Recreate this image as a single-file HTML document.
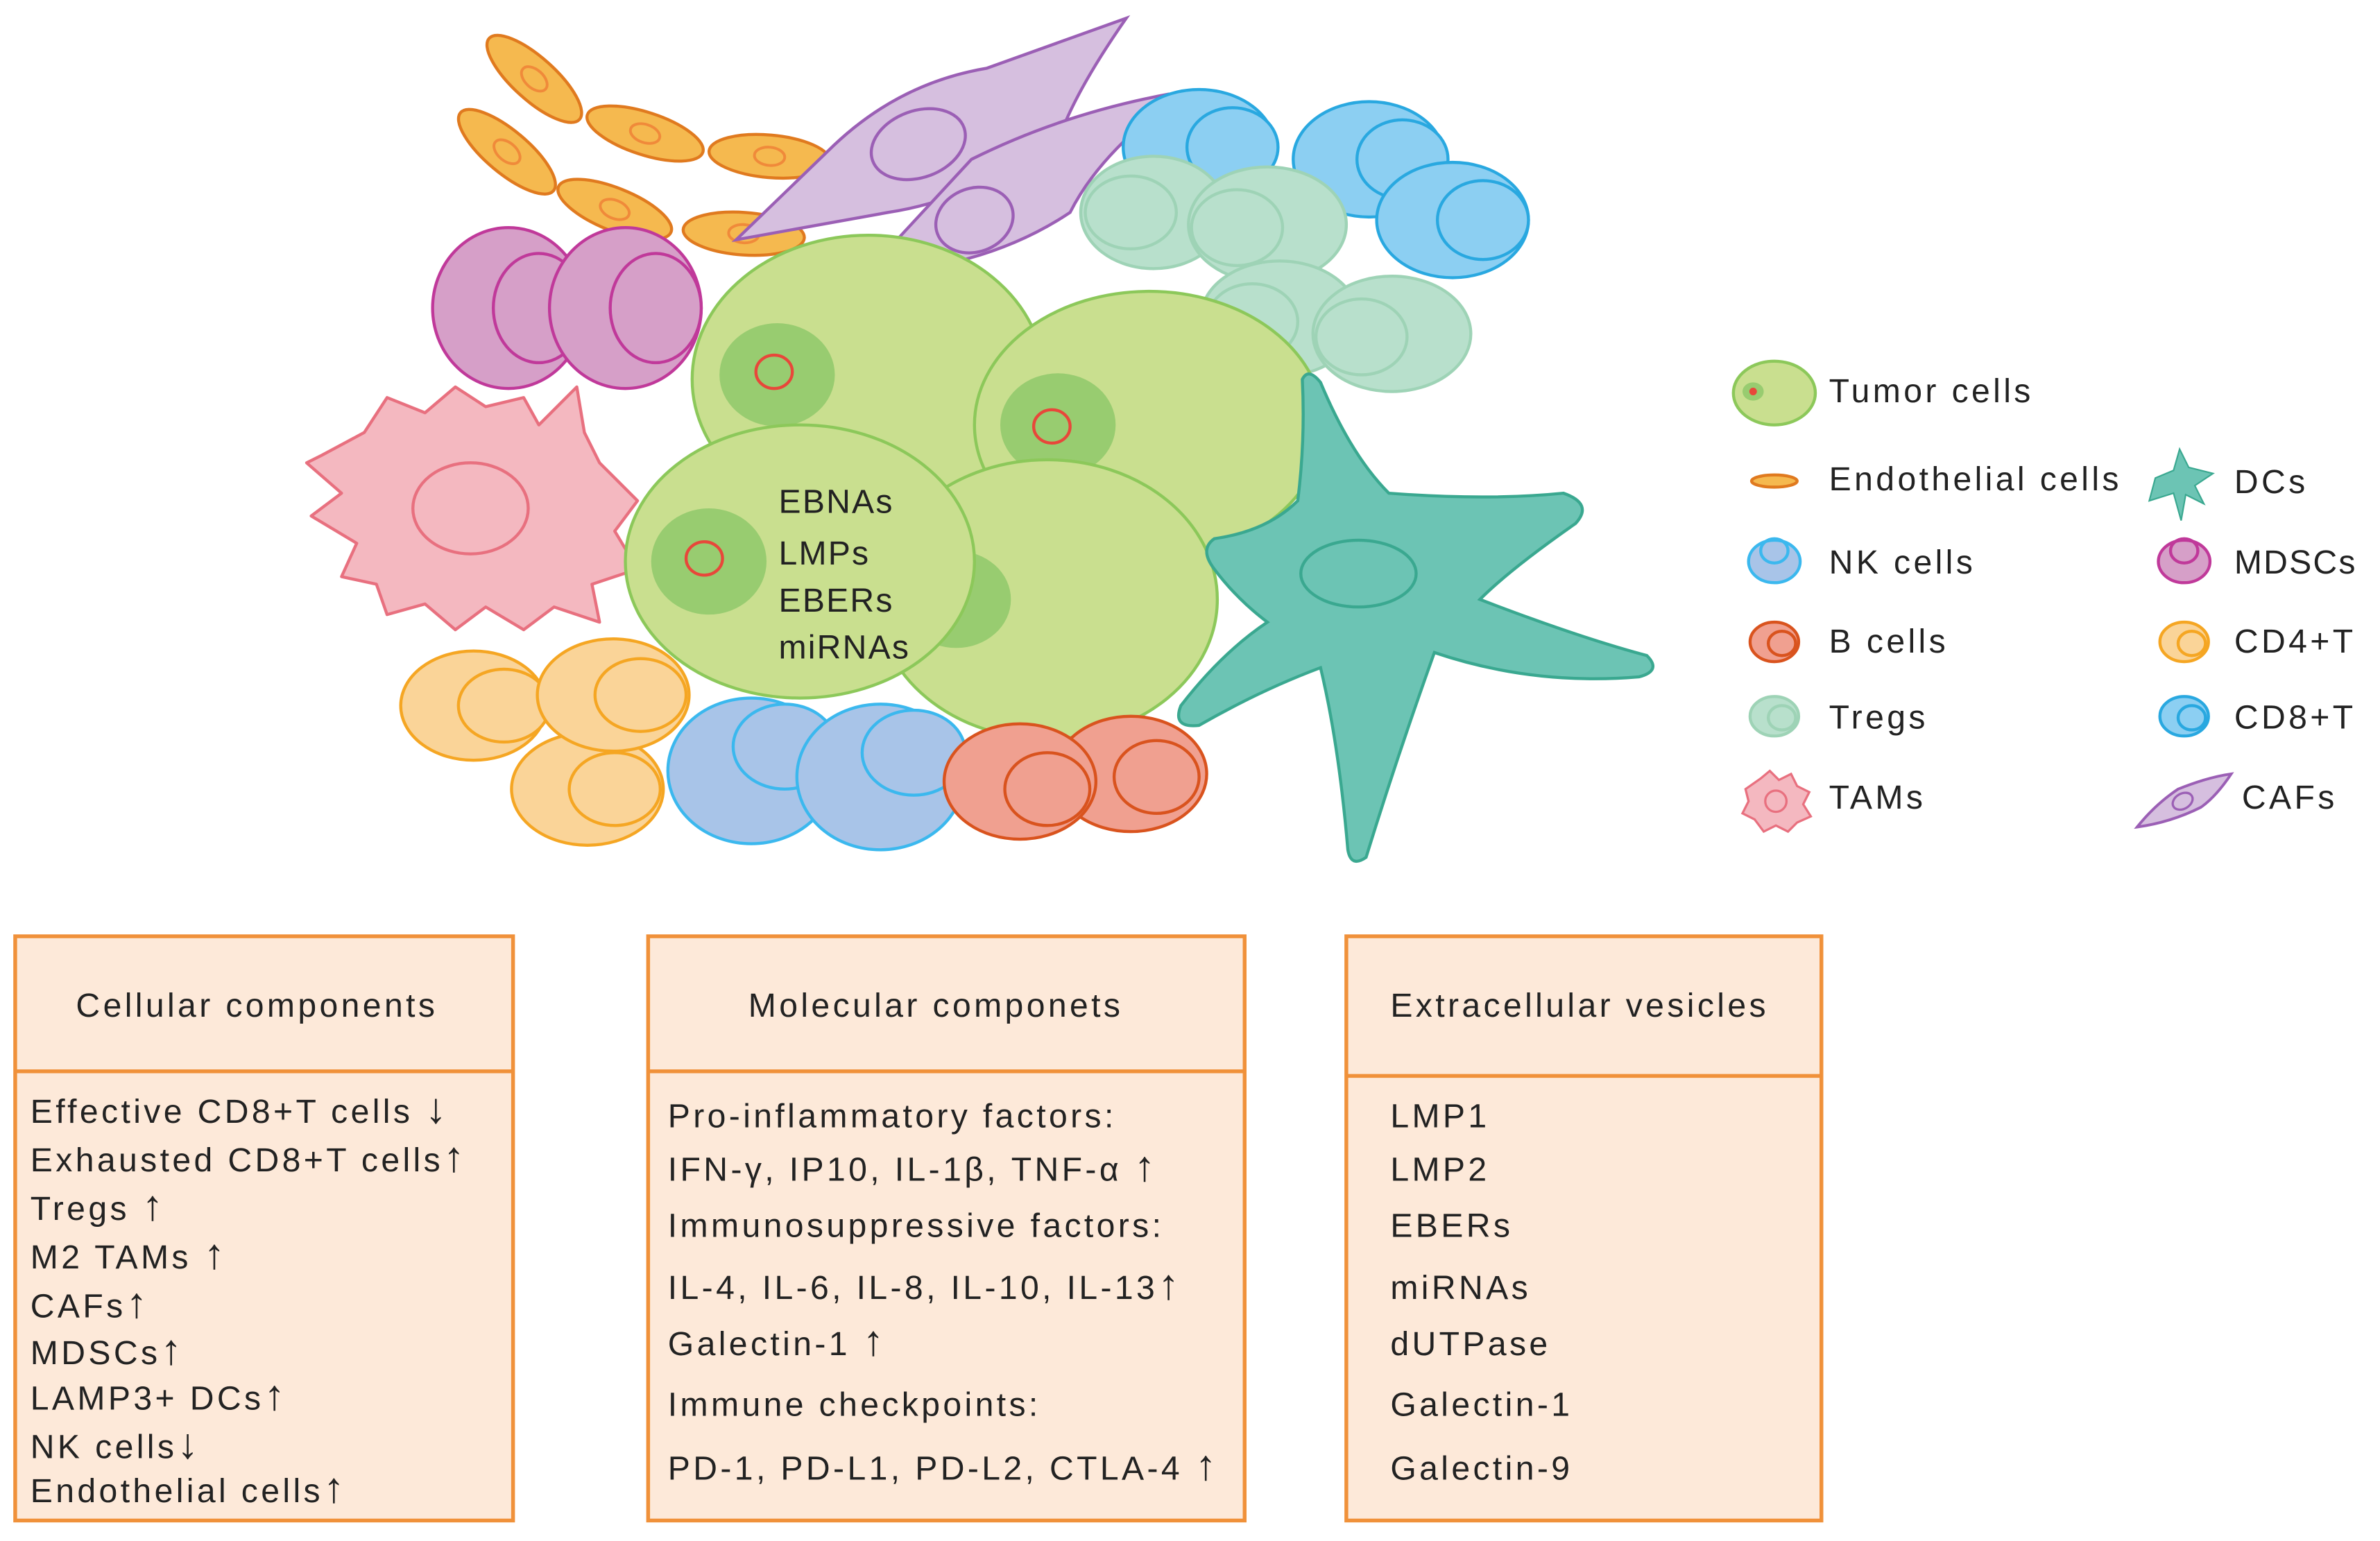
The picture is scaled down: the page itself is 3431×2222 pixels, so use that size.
<!DOCTYPE html>
<html><head><meta charset="utf-8"><style>
html,body{margin:0;padding:0;background:#fff;}
svg{display:block}
text{font-family:"Liberation Sans",Arial,sans-serif;fill:#222;letter-spacing:2px;}
tspan.a{font-weight:bold;font-size:28px;}
</style></head><body>
<svg width="3431" height="2222" viewBox="0 0 1568 1015.5" xmlns="http://www.w3.org/2000/svg">
<defs>
<g id="endo"><ellipse rx="40" ry="14" fill="#f5b94f" stroke="#e07a1f" stroke-width="2"/><ellipse rx="10" ry="6" fill="none" stroke="#f08a3a" stroke-width="1.8"/></g>
</defs>
<use href="#endo" transform="translate(352,52) rotate(42)"/>
<use href="#endo" transform="translate(425,88) rotate(18)"/>
<use href="#endo" transform="translate(507,103) rotate(5)"/>
<use href="#endo" transform="translate(334,100) rotate(40)"/>
<use href="#endo" transform="translate(405,138) rotate(22)"/>
<use href="#endo" transform="translate(490,154) rotate(4)"/>
<path d="M485,158 L545,100 Q590,55 650,45 L742,12 Q712,55 700,85 Q650,130 585,140 Z" fill="#d6bfdf" stroke="#9b5fb5" stroke-width="2"/>
<ellipse cx="605" cy="95" rx="32" ry="22" transform="rotate(-20 605 95)" fill="none" stroke="#9b5fb5" stroke-width="2"/>
<path d="M578,172 L640,105 Q700,75 770,62 L778,62 Q725,100 705,140 Q660,170 600,178 Z" fill="#d6bfdf" stroke="#9b5fb5" stroke-width="2"/>
<ellipse cx="642" cy="145" rx="26" ry="21" transform="rotate(-20 642 145)" fill="none" stroke="#9b5fb5" stroke-width="2"/>
<g fill="#8ccff2" stroke="#29a8e0" stroke-width="2">
<ellipse cx="790" cy="97" rx="50" ry="38"/><ellipse cx="812" cy="97" rx="30" ry="26"/>
<ellipse cx="902" cy="105" rx="50" ry="38"/><ellipse cx="924" cy="105" rx="30" ry="26"/>
<ellipse cx="957" cy="145" rx="50" ry="38"/><ellipse cx="977" cy="145" rx="30" ry="26"/>
</g>
<g fill="#b8e0cc" stroke="#9ed3b6" stroke-width="2">
<ellipse cx="760" cy="140" rx="48" ry="37"/><ellipse cx="745" cy="140" rx="30" ry="24"/>
<ellipse cx="835" cy="148" rx="52" ry="38"/><ellipse cx="815" cy="150" rx="30" ry="25"/>
<ellipse cx="843" cy="210" rx="52" ry="38"/><ellipse cx="825" cy="212" rx="30" ry="25"/>
<ellipse cx="917" cy="220" rx="52" ry="38"/><ellipse cx="897" cy="222" rx="30" ry="25"/>
</g>
<g fill="#d69fc8" stroke="#c0399a" stroke-width="2">
<ellipse cx="335" cy="203" rx="50" ry="53"/><ellipse cx="355" cy="203" rx="30" ry="36"/>
<ellipse cx="412" cy="203" rx="50" ry="53"/><ellipse cx="432" cy="203" rx="30" ry="36"/>
</g>
<path d="M212,300 L240,285 L255,262 L280,272 L300,255 L320,268 L345,262 L355,280 L380,255 L385,285 L395,305 L420,330 L405,350 L420,375 L390,385 L395,410 L365,400 L345,415 L320,400 L300,415 L280,398 L255,405 L248,385 L225,380 L235,358 L205,340 L225,325 L202,305 Z" fill="#f4b8c0" stroke="#e8707f" stroke-width="2" stroke-linejoin="round"/>
<ellipse cx="310" cy="335" rx="38" ry="30" fill="none" stroke="#e8707f" stroke-width="2"/>
<g stroke="#8cc85a" stroke-width="2" fill="#c9df8f">
<ellipse cx="572" cy="250" rx="116" ry="95"/>
<ellipse cx="757" cy="280" rx="115" ry="88"/>
</g>
<ellipse cx="512" cy="247" rx="38" ry="34" fill="#98cc70"/><ellipse cx="510" cy="245" rx="12" ry="11" fill="none" stroke="#e8473a" stroke-width="2"/>
<ellipse cx="697" cy="280" rx="38" ry="34" fill="#98cc70"/><ellipse cx="693" cy="281" rx="12" ry="11" fill="none" stroke="#e8473a" stroke-width="2"/>
<ellipse cx="690" cy="395" rx="112" ry="92" fill="#c9df8f" stroke="#8cc85a" stroke-width="2"/>
<ellipse cx="630" cy="395" rx="36" ry="32" fill="#98cc70"/>
<ellipse cx="527" cy="370" rx="115" ry="90" fill="#c9df8f" stroke="#8cc85a" stroke-width="2"/>
<ellipse cx="467" cy="370" rx="38" ry="35" fill="#98cc70"/><ellipse cx="464" cy="368" rx="12" ry="11" fill="none" stroke="#e8473a" stroke-width="2"/>
<text x="513" y="338" font-size="22" style="letter-spacing:1px">EBNAs</text>
<text x="513" y="372" font-size="22" style="letter-spacing:1px">LMPs</text>
<text x="513" y="403" font-size="22" style="letter-spacing:1px">EBERs</text>
<text x="513" y="434" font-size="22" style="letter-spacing:1px">miRNAs</text>
<path d="M800,355 Q835,350 855,330 Q860,290 858,250 Q862,242 870,252 Q890,300 915,325 Q980,330 1030,325 Q1050,332 1038,345 Q995,375 975,395 Q1040,420 1085,432 Q1095,442 1080,446 Q1010,452 945,430 Q920,500 900,565 Q890,572 888,560 Q882,490 870,440 Q830,455 790,478 Q772,480 778,465 Q805,430 835,410 Q815,395 800,375 Q790,362 800,355 Z" fill="#6cc4b4" stroke="#3aa890" stroke-width="2"/>
<ellipse cx="895" cy="378" rx="38" ry="22" fill="none" stroke="#3aa890" stroke-width="2"/>
<g fill="#fad498" stroke="#f5a623" stroke-width="2">
<ellipse cx="312" cy="465" rx="48" ry="36"/><ellipse cx="332" cy="465" rx="30" ry="24"/>
<ellipse cx="387" cy="520" rx="50" ry="37"/><ellipse cx="405" cy="520" rx="30" ry="24"/>
<ellipse cx="404" cy="458" rx="50" ry="37"/><ellipse cx="422" cy="458" rx="30" ry="24"/>
</g>
<g fill="#a8c4e8" stroke="#3bb8ee" stroke-width="2">
<ellipse cx="495" cy="508" rx="55" ry="48"/><ellipse cx="517" cy="492" rx="34" ry="28"/>
<ellipse cx="580" cy="512" rx="55" ry="48"/><ellipse cx="602" cy="496" rx="34" ry="28"/>
</g>
<g fill="#f0a090" stroke="#d9531e" stroke-width="2">
<ellipse cx="745" cy="510" rx="50" ry="38"/><ellipse cx="762" cy="512" rx="28" ry="24"/>
<ellipse cx="672" cy="515" rx="50" ry="38"/><ellipse cx="690" cy="520" rx="28" ry="24"/>
</g>
<ellipse cx="1169" cy="259" rx="27" ry="21" fill="#c9df8f" stroke="#8cc85a" stroke-width="2"/>
<ellipse cx="1155" cy="258" rx="7" ry="6" fill="#98cc70"/><circle cx="1155" cy="258" r="2.5" fill="#e8473a"/>
<text x="1205" y="265" font-size="22">Tumor cells</text>
<ellipse cx="1169" cy="317" rx="15" ry="4" fill="#f5b94f" stroke="#e07a1f" stroke-width="2"/>
<text x="1205" y="323" font-size="22">Endothelial cells</text>
<path d="M1420,315 L1432,310 L1436,296 L1442,308 L1458,312 L1446,320 L1452,332 L1440,326 L1437,343 L1432,325 L1416,330 Z" fill="#6cc4b4" stroke="#3aa890" stroke-width="1"/>
<text x="1472" y="325" font-size="22">DCs</text>
<ellipse cx="1169" cy="370" rx="17" ry="14" fill="#a8c4e8" stroke="#3bb8ee" stroke-width="2"/><ellipse cx="1169" cy="363" rx="9" ry="8" fill="none" stroke="#3bb8ee" stroke-width="2"/>
<text x="1205" y="378" font-size="22">NK cells</text>
<ellipse cx="1439" cy="370" rx="17" ry="14" fill="#d69fc8" stroke="#c0399a" stroke-width="2"/><ellipse cx="1439" cy="363" rx="9" ry="8" fill="none" stroke="#c0399a" stroke-width="2"/>
<text x="1472" y="378" font-size="22" style="letter-spacing:1px">MDSCs</text>
<ellipse cx="1169" cy="423" rx="16" ry="13" fill="#f0a090" stroke="#d9531e" stroke-width="2"/><ellipse cx="1174" cy="424" rx="9" ry="8" fill="none" stroke="#d9531e" stroke-width="2"/>
<text x="1205" y="430" font-size="22">B cells</text>
<ellipse cx="1439" cy="423" rx="16" ry="13" fill="#fad498" stroke="#f5a623" stroke-width="2"/><ellipse cx="1444" cy="424" rx="9" ry="8" fill="none" stroke="#f5a623" stroke-width="2"/>
<text x="1472" y="430" font-size="22">CD4+T</text>
<ellipse cx="1169" cy="472" rx="16" ry="13" fill="#b8e0cc" stroke="#9ed3b6" stroke-width="2"/><ellipse cx="1174" cy="473" rx="9" ry="8" fill="none" stroke="#9ed3b6" stroke-width="2"/>
<text x="1205" y="480" font-size="22">Tregs</text>
<ellipse cx="1439" cy="472" rx="16" ry="13" fill="#8ccff2" stroke="#29a8e0" stroke-width="2"/><ellipse cx="1444" cy="473" rx="9" ry="8" fill="none" stroke="#29a8e0" stroke-width="2"/>
<text x="1472" y="480" font-size="22">CD8+T</text>
<path d="M1150,520 L1160,513 L1166,508 L1172,514 L1180,510 L1184,518 L1192,522 L1188,530 L1193,538 L1184,542 L1178,548 L1170,544 L1162,548 L1156,540 L1148,536 L1152,528 Z" fill="#f4b8c0" stroke="#e8707f" stroke-width="1.5"/>
<circle cx="1170" cy="528" r="7" fill="none" stroke="#e8707f" stroke-width="1.5"/>
<text x="1205" y="533" font-size="22">TAMs</text>
<path d="M1408,545 Q1420,530 1435,520 Q1455,512 1470,510 Q1460,525 1450,532 Q1430,542 1408,545 Z" fill="#d6bfdf" stroke="#9b5fb5" stroke-width="1.8"/>
<ellipse cx="1438" cy="528" rx="7" ry="5" transform="rotate(-30 1438 528)" fill="none" stroke="#9b5fb5" stroke-width="1.5"/>
<text x="1477" y="533" font-size="22">CAFs</text>
<g fill="#fde9d9" stroke="#f0913a" stroke-width="2.5">
<rect x="10" y="617" width="328" height="385"/>
<rect x="427" y="617" width="393" height="385"/>
<rect x="887" y="617" width="313" height="385"/>
</g>
<g stroke="#f0913a" stroke-width="2.5">
<line x1="10" y1="706" x2="338" y2="706"/>
<line x1="427" y1="706" x2="820" y2="706"/>
<line x1="887" y1="709" x2="1200" y2="709"/>
</g>
<g font-size="22">
<text x="50" y="670">Cellular components</text>
<text x="493" y="670">Molecular componets</text>
<text x="916" y="670">Extracellular vesicles</text>
<text x="20" y="740">Effective CD8+T cells <tspan class="a">↓</tspan></text>
<text x="20" y="772">Exhausted CD8+T cells<tspan class="a">↑</tspan></text>
<text x="20" y="804">Tregs <tspan class="a">↑</tspan></text>
<text x="20" y="836">M2 TAMs <tspan class="a">↑</tspan></text>
<text x="20" y="868">CAFs<tspan class="a">↑</tspan></text>
<text x="20" y="899">MDSCs<tspan class="a">↑</tspan></text>
<text x="20" y="929">LAMP3+ DCs<tspan class="a">↑</tspan></text>
<text x="20" y="961">NK cells<tspan class="a">↓</tspan></text>
<text x="20" y="990">Endothelial cells<tspan class="a">↑</tspan></text>
<text x="440" y="743">Pro-inflammatory factors:</text>
<text x="440" y="778">IFN-γ, IP10, IL-1β, TNF-α <tspan class="a">↑</tspan></text>
<text x="440" y="815">Immunosuppressive factors:</text>
<text x="440" y="856">IL-4, IL-6, IL-8, IL-10, IL-13<tspan class="a">↑</tspan></text>
<text x="440" y="893">Galectin-1 <tspan class="a">↑</tspan></text>
<text x="440" y="933">Immune checkpoints:</text>
<text x="440" y="975">PD-1, PD-L1, PD-L2, CTLA-4 <tspan class="a">↑</tspan></text>
<text x="916" y="743">LMP1</text>
<text x="916" y="778">LMP2</text>
<text x="916" y="815">EBERs</text>
<text x="916" y="856">miRNAs</text>
<text x="916" y="893">dUTPase</text>
<text x="916" y="933">Galectin-1</text>
<text x="916" y="975">Galectin-9</text>
</g>
</svg>
</body></html>
